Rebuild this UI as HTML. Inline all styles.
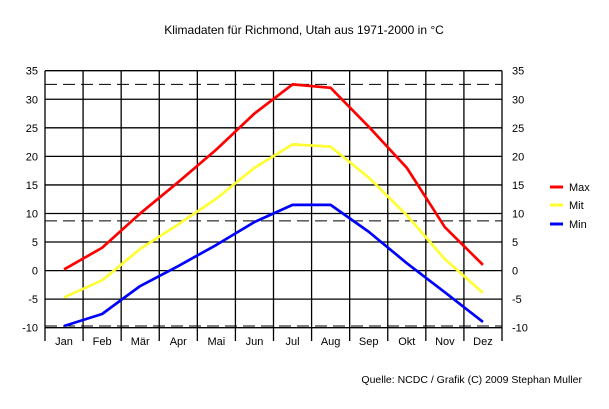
<!DOCTYPE html><html><head><meta charset="utf-8"><style>body{margin:0;background:#fff}svg{display:block;font-family:"Liberation Sans",Arial,sans-serif;font-size:11px}</style></head><body>
<svg width="609" height="409" xmlns="http://www.w3.org/2000/svg">
<rect width="609" height="409" fill="#fff"/>
<text x="304" y="34" text-anchor="middle" font-size="12">Klimadaten für Richmond, Utah aus 1971-2000 in °C</text>
<g stroke="#000" stroke-width="1.3" id="g"></g>
<g id="t" fill="#000"></g>
<g fill="none" stroke-width="2.7" stroke-linejoin="round">
<polyline id="mx" stroke="#ff0000"/>
<polyline id="mi" stroke="#ffff33"/>
<polyline id="mn" stroke="#0000ff"/>
</g>
<g stroke-width="3"><line x1="550" y1="187" x2="563" y2="187" stroke="#f00"/><line x1="550" y1="205" x2="563" y2="205" stroke="#ff3"/><line x1="550" y1="224" x2="563" y2="224" stroke="#00f"/></g>
<text x="569" y="191">Max</text><text x="569" y="209">Mit</text><text x="569" y="228">Min</text>
<text x="582" y="383" text-anchor="end" font-size="10.5">Quelle: NCDC / Grafik (C) 2009 Stephan Muller</text>
<script>
var ns="http://www.w3.org/2000/svg",g=document.getElementById('g'),t=document.getElementById('t');
function Y(v){return 70.7+(35-v)*257/45}
function L(x1,y1,x2,y2,d){var l=document.createElementNS(ns,'line');l.setAttribute('x1',x1);l.setAttribute('y1',y1);l.setAttribute('x2',x2);l.setAttribute('y2',y2);if(d){l.setAttribute('stroke-dasharray','12,6');l.setAttribute('stroke-width','1')}g.appendChild(l)}
function T(x,y,s,a){var e=document.createElementNS(ns,'text');e.setAttribute('x',x);e.setAttribute('y',y);e.setAttribute('text-anchor',a);e.textContent=s;t.appendChild(e)}
var X0=45,X1=502,w=(X1-X0)/12;
for(var v=-10;v<=35;v+=5){var y=Y(v);L(X0,y,X1,y);T(38,y+4,v,'end');T(512,y+4,v,'start')}
var m=['Jan','Feb','Mär','Apr','Mai','Jun','Jul','Aug','Sep','Okt','Nov','Dez'];
for(var i=0;i<=12;i++){var x=X0+i*w;L(x,70.7,x,341);}
for(i=0;i<12;i++)T(X0+(i+.5)*w,345,m[i],'middle');
[32.6,8.7,-9.7].forEach(function(v){L(X0,Y(v),X1,Y(v),1)});
function P(id,a){document.getElementById(id).setAttribute('points',a.map(function(v,i){return (X0+(i+.5)*w)+','+Y(v)}).join(' '))}
P('mx',[0.2,4,10,15.5,21.2,27.5,32.6,32,25.2,18,7.6,1]);
P('mi',[-4.7,-1.7,3.8,8.1,12.6,18,22.1,21.7,16.3,9.7,2,-3.9]);
P('mn',[-9.7,-7.6,-2.7,0.8,4.5,8.5,11.5,11.5,6.8,1.3,-3.8,-9]);
</script>
</svg></body></html>
